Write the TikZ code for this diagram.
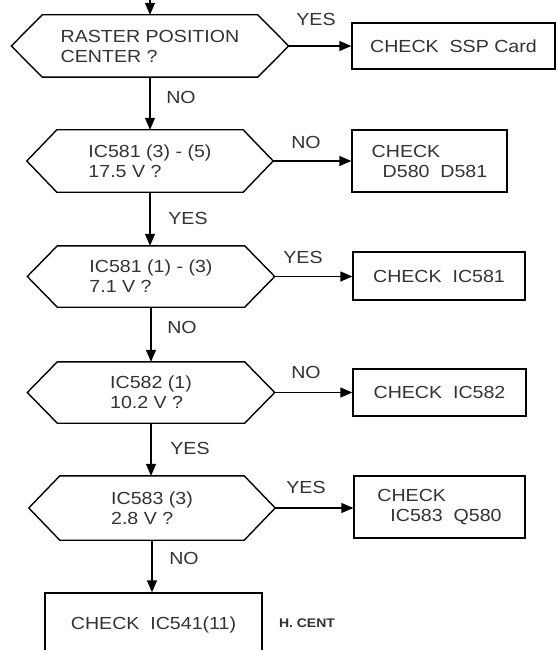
\documentclass[tikz,border=0pt]{standalone}
\usepackage{fontspec}
\setmainfont{Liberation Sans}[FakeStretch=1.12]
\usetikzlibrary{arrows.meta,calc}
\newcommand\hexdraw[2]{%
  \draw[hexline] (#1.west) -- ($(#1.north west)+(#2,0)$) -- ($(#1.north east)+(-#2,0)$) -- (#1.east)
     -- ($(#1.south east)+(-#2,0)$) -- ($(#1.south west)+(#2,0)$) -- cycle;}
\begin{document}
\begin{tikzpicture}[x=1pt,y=-1pt,
  every node/.style={font=\fontsize{17.5}{20}\selectfont, text=black!80},
  hexnode/.style={inner sep=0pt, minimum width=#1, minimum height=62pt, align=left},
  hexline/.style={line width=1.4pt, line join=miter},
  boxnode/.style={draw, line width=1.4pt, inner sep=0pt, align=left},
  arr/.style={line width=1.4pt, -{Triangle[length=12pt,width=10pt]}},
  lab/.style={inner sep=0pt}]
\useasboundingbox (0,0) rectangle (557,650);
\clip (0,0) rectangle (557,650);
\fill[white] (0,0) rectangle (557,650);

% decision hexagons
\node[hexnode=277pt] (h1) at (150,46) {RASTER POSITION\\CENTER ?};
\node[hexnode=246pt] (h2) at (150,161) {IC581 (3) - (5)\\17.5 V ?};
\node[hexnode=247pt, minimum height=61pt] (h3) at (151,276.5) {IC581 (1) - (3)\\7.1 V ?};
\node[hexnode=247pt, minimum height=61pt] (h4) at (151,392.5) {IC582 (1)\\10.2 V ?};
\node[hexnode=246pt, minimum height=64pt] (h5) at (152,508) {IC583 (3)\\2.8 V ?};
\hexdraw{h1}{31}
\hexdraw{h2}{30}
\hexdraw{h3}{30}
\hexdraw{h4}{30}
\hexdraw{h5}{31}

% action boxes
\node[boxnode, minimum width=203pt, minimum height=46pt] (b1) at (453.5,46) {CHECK~~SSP Card};
\node[boxnode, minimum width=155pt, minimum height=62pt] (b2) at (429.5,161) {CHECK\\\hspace{11pt}D580~~D581};
\node[boxnode, minimum width=172pt, minimum height=48pt] (b3) at (439,276) {CHECK~~IC581};
\node[boxnode, minimum width=173pt, minimum height=47pt] (b4) at (439.5,392.5) {CHECK~~IC582};
\node[boxnode, minimum width=171pt, minimum height=62pt] (b5) at (439.5,507) {CHECK\\\hspace{13pt}IC583~~Q580};
\node[boxnode, minimum width=217pt, minimum height=64pt] (b6) at (153.5,625) {CHECK~~IC541(11)};

% connectors
\coordinate (top) at (150,0);
\draw[arr] (top) -- (h1.north);
\draw[arr] (h1.east) -- (b1.west);
\draw[arr] (h1.south) -- (h1.south |- h2.north);
\draw[arr] (h2.east) -- (h2.east -| b2.west);
\draw[arr] (h2.south) -- (h2.south |- h3.north);
\draw[arr] (h3.east) -- (h3.east -| b3.west);
\draw[arr] (h3.south) -- (h3.south |- h4.north);
\draw[arr] (h4.east) -- (h4.east -| b4.west);
\draw[arr] (h4.south) -- (h4.south |- h5.north);
\draw[arr] (h5.east) -- (h5.east -| b5.west);
\draw[arr] (h5.south) -- (h5.south |- b6.north);

% labels
\node[lab] (l1) at (316,19) {YES};
\node[lab] (l2) at (181,97) {NO};
\node[lab] (l3) at (306,142) {NO};
\node[lab] (l4) at (188,218) {YES};
\node[lab] (l5) at (303,257) {YES};
\node[lab] (l6) at (182,327) {NO};
\node[lab] (l7) at (306,372) {NO};
\node[lab] (l8) at (190,448) {YES};
\node[lab] (l9) at (306,487) {YES};
\node[lab] (l10) at (184,558) {NO};
\node[lab, font=\fontsize{12.5}{14}\selectfont\bfseries] (hc) at (307,623) {H. CENT};
\end{tikzpicture}
\end{document}
